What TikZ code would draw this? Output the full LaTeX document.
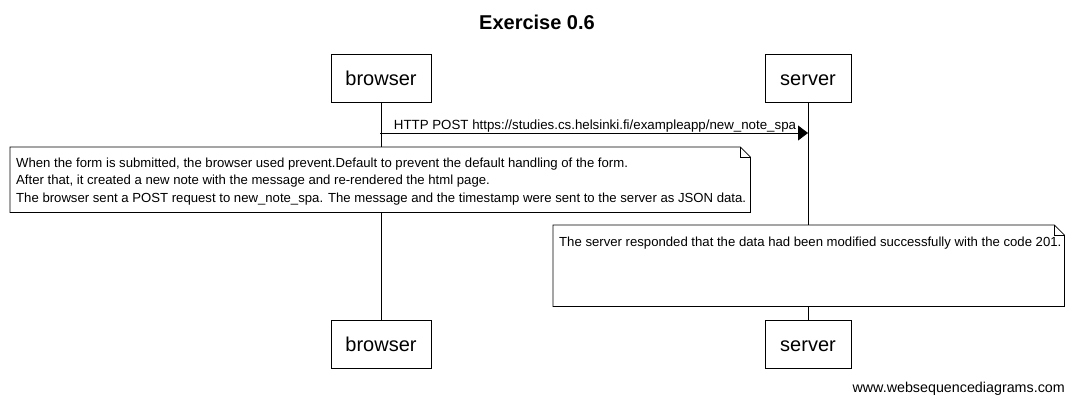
\documentclass[tikz,border=0pt]{standalone}
\usepackage{fontspec}
\setmainfont{Liberation Sans}
\usetikzlibrary{arrows.meta}
\tikzset{
  part/.style={draw, line width=0.8pt, fill=white, minimum width=100pt, minimum height=48pt, inner sep=0pt, text height=17pt, text depth=2pt, font=\fontsize{20}{24}\selectfont},
  life/.style={line width=0.8pt},
  msg/.style={line width=0.8pt, -{Triangle[length=10pt,width=15pt]}},
  notebox/.style={inner sep=0pt, anchor=north west},
  noteline/.style={line width=0.8pt, fill=white},
  notetext/.style={inner sep=0pt, anchor=base west, align=left, font=\fontsize{13.15}{17.5}\selectfont},
}
\begin{document}
\begin{tikzpicture}[x=1pt,y=-1pt]
\useasboundingbox[fill=white] (0,0) rectangle (1074,402);
\node[font=\bfseries\fontsize{20}{24}\selectfont] (title) at (537,22) {Exercise 0.6};
\node[part] (bt) at (381,78) {browser};
\node[part, minimum width=86pt] (st) at (808,78) {server};
\node[part] (bb) at (381,344) {browser};
\node[part, minimum width=86pt] (sb) at (808,344) {server};
\draw[life] (bt.south) -- (bb.north);
\draw[life] (st.south) -- (sb.north);
\coordinate (a1) at (380,133);
\coordinate (a2) at (808,133);
\draw[msg] (a1) -- node[anchor=base, yshift=4pt, xshift=1pt, font=\fontsize{13.3}{15}\selectfont, inner sep=0pt] (lbl) {HTTP POST https://studies.cs.helsinki.fi/exampleapp/new\_note\_spa} (a2);
% note 1
\node[notebox, minimum width=740pt, minimum height=65pt] (n1) at (10,147) {};
\draw[noteline] (n1.north west) -- ([xshift=-10pt]n1.north east) -- ([yshift=-10pt]n1.north east) -- (n1.south east) -- (n1.south west) -- cycle;
\draw[line width=0.6pt] ([xshift=-10pt]n1.north east) |- ([yshift=-10pt]n1.north east);
\node[notetext] (t1) at (16,202) {When the form is submitted, the browser used prevent.Default to prevent the default handling of the form.\\After that, it created a new note with the message and re-rendered the html page.\\The browser sent a POST request to new\_note\_spa. The message and the timestamp were sent to the server as JSON data.};
% note 2
\node[notebox, minimum width=511pt, minimum height=81pt] (n2) at (553,225) {};
\draw[noteline] (n2.north west) -- ([xshift=-10pt]n2.north east) -- ([yshift=-10pt]n2.north east) -- (n2.south east) -- (n2.south west) -- cycle;
\draw[line width=0.6pt] ([xshift=-10pt]n2.north east) |- ([yshift=-10pt]n2.north east);
\node[notetext] (t2) at (559,246) {The server responded that the data had been modified successfully with the code 201.};
\node[anchor=base east, inner sep=0pt, font=\fontsize{14.3}{16}\selectfont] (wm) at (1065,392) {www.websequencediagrams.com};
\end{tikzpicture}
\end{document}
